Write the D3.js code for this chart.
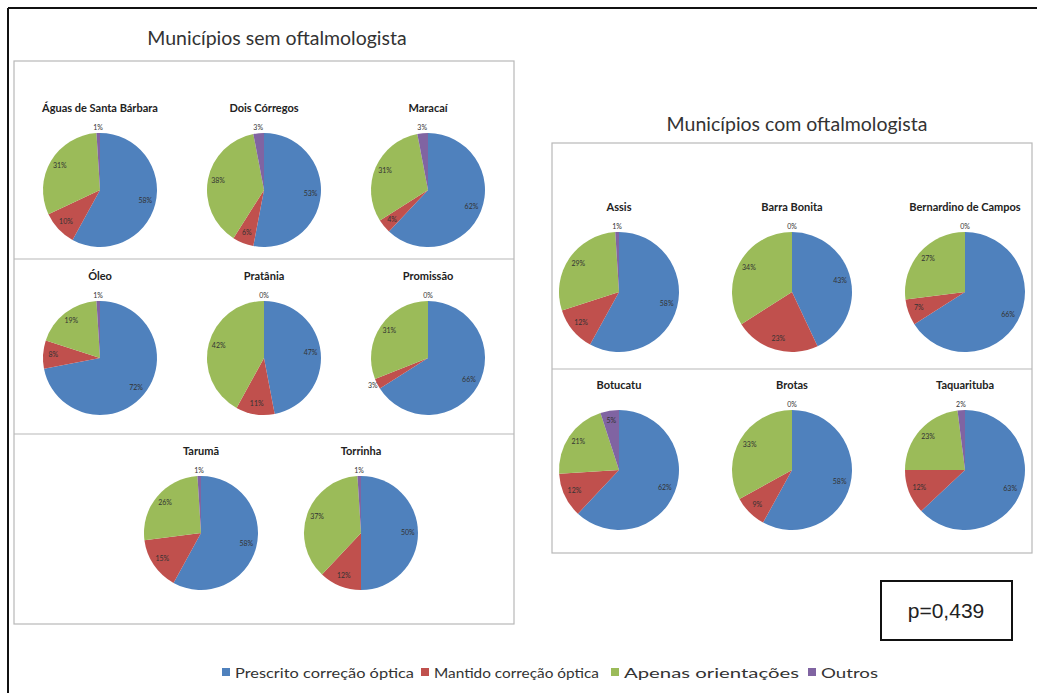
<!DOCTYPE html>
<html>
<head>
<meta charset="utf-8">
<script src="https://cdn.jsdelivr.net/npm/d3@7"></script>
<style>
  body { margin: 0; background: #fff; }
  svg { display: block; }
</style>
</head>
<body>
<div id="chart"></div>
<script>
// legend categories (clockwise order from 12 o'clock)
const categories = ["Prescrito correção óptica", "Mantido correção óptica", "Apenas orientações", "Outros"];
const colors = ["#4f81bd", "#c0504d", "#9bbb59", "#8064a2"];

// municípios sem oftalmologista
const semNomes = ["Águas de Santa Bárbara", "Dois Córregos", "Maracaí", "Óleo", "Pratânia", "Promissão", "Tarumã", "Torrinha"];
const semPrescrito = [58, 53, 62, 72, 47, 66, 58, 50];
const semMantido   = [10,  6,  4,  8, 11,  3, 15, 12];
const semApenas    = [31, 38, 31, 19, 42, 31, 26, 37];
const semOutros    = [ 1,  3,  3,  1,  0,  0,  1,  1];

// municípios com oftalmologista
const comNomes = ["Assis", "Barra Bonita", "Bernardino de Campos", "Botucatu", "Brotas", "Taquarituba"];
const comPrescrito = [58, 43, 66, 62, 58, 63];
const comMantido   = [12, 23,  7, 12,  9, 12];
const comApenas    = [29, 34, 27, 21, 33, 23];
const comOutros    = [ 1,  0,  0,  5,  0,  2];

const pValue = "p=0,439";

const W = 1037, H = 693;
const svg = d3.select("#chart").append("svg")
  .attr("width", W)
  .attr("height", H);

svg.append("rect").attr("width", W).attr("height", H).attr("fill", "#fff");

// outer frame (only top and left visible)
svg.append("line").attr("x1", 8).attr("x2", W).attr("y1", 8).attr("y2", 8)
  .attr("stroke", "#111").attr("stroke-width", 2);
svg.append("line").attr("x1", 8).attr("x2", 8).attr("y1", 8).attr("y2", H)
  .attr("stroke", "#111").attr("stroke-width", 2);

const pie = d3.pie().sort(null).value(d => d.v);
const color = d3.scaleOrdinal().domain(categories).range(colors);

function drawPie(g, nome, vals, r, titleDy) {
  const data = vals.map((v, i) => ({ k: categories[i], v: v }));
  const arcs = pie(data);
  const arc = d3.arc().innerRadius(0).outerRadius(r);
  const inner = d3.arc().innerRadius(r * 0.82).outerRadius(r * 0.82);
  const outer = d3.arc().innerRadius(r + 5).outerRadius(r + 5);

  g.append("text")
    .attr("y", titleDy)
    .attr("text-anchor", "middle")
    .attr("font-family", "Lato, 'Open Sans', sans-serif")
    .attr("font-weight", "bold")
    .attr("font-size", 11)
    .attr("fill", "#222")
    .text(nome);

  g.selectAll("path")
    .data(arcs)
    .enter()
    .append("path")
    .attr("d", arc)
    .attr("fill", d => color(d.data.k));

  g.selectAll("text.lbl")
    .data(arcs)
    .enter()
    .append("text")
    .attr("class", "lbl")
    .attr("transform", d => "translate(" + (d.data.v <= 3 ? outer : inner).centroid(d) + ")")
    .attr("text-anchor", "middle")
    .attr("dominant-baseline", "middle")
    .attr("font-family", "Lato, sans-serif")
    .attr("font-size", 7)
    .attr("fill", "#333")
    .text(d => d.data.v + "%");
}

const titleFont = "Lato, 'Open Sans', sans-serif";

// ---------- left block ----------
svg.append("text")
  .attr("x", 277).attr("y", 45)
  .attr("text-anchor", "middle")
  .attr("font-family", titleFont)
  .attr("font-size", 19.5)
  .attr("fill", "#333")
  .text("Municípios sem oftalmologista");

svg.append("rect")
  .attr("x", 14).attr("y", 61).attr("width", 500).attr("height", 563)
  .attr("fill", "none").attr("stroke", "#b8b8b8").attr("stroke-width", 1.2);
[259, 434].forEach(y => {
  svg.append("line").attr("x1", 14).attr("x2", 514).attr("y1", y).attr("y2", y)
    .attr("stroke", "#b8b8b8").attr("stroke-width", 1.2);
});

const semX = d3.scalePoint().domain([0, 1, 2]).range([100, 428]);
const semY = d3.scalePoint().domain([0, 1]).range([190, 358]);
const semX3 = d3.scalePoint().domain([0, 1]).range([201, 361]);

semNomes.forEach((nome, i) => {
  const vals = [semPrescrito[i], semMantido[i], semApenas[i], semOutros[i]];
  let cx, cy;
  if (i < 6) { cx = semX(i % 3); cy = semY(Math.floor(i / 3)); }
  else { cx = semX3(i - 6); cy = 533; }
  const g = svg.append("g").attr("transform", "translate(" + cx + "," + cy + ")");
  drawPie(g, nome, vals, 57, -78);
});

// ---------- right block ----------
svg.append("text")
  .attr("x", 797).attr("y", 131)
  .attr("text-anchor", "middle")
  .attr("font-family", titleFont)
  .attr("font-size", 19.5)
  .attr("fill", "#333")
  .text("Municípios com oftalmologista");

svg.append("rect")
  .attr("x", 552).attr("y", 143).attr("width", 480).attr("height", 410)
  .attr("fill", "none").attr("stroke", "#b8b8b8").attr("stroke-width", 1.2);
svg.append("line").attr("x1", 552).attr("x2", 1032).attr("y1", 369).attr("y2", 369)
  .attr("stroke", "#b8b8b8").attr("stroke-width", 1.2);

const comX = d3.scalePoint().domain([0, 1, 2]).range([619, 965]);
const comY = d3.scalePoint().domain([0, 1]).range([292, 470]);

comNomes.forEach((nome, i) => {
  const vals = [comPrescrito[i], comMantido[i], comApenas[i], comOutros[i]];
  const g = svg.append("g")
    .attr("transform", "translate(" + comX(i % 3) + "," + comY(Math.floor(i / 3)) + ")");
  drawPie(g, nome, vals, 60, -81);
});

// ---------- p value box ----------
svg.append("rect")
  .attr("x", 881).attr("y", 581).attr("width", 131).attr("height", 59)
  .attr("fill", "#fff").attr("stroke", "#111").attr("stroke-width", 2);
svg.append("text")
  .attr("x", 946).attr("y", 618)
  .attr("text-anchor", "middle")
  .attr("font-family", "'Liberation Sans', Arial, sans-serif")
  .attr("font-size", 21)
  .attr("fill", "#222")
  .text(pValue);

// ---------- legend ----------
const legendX = [222, 421, 611, 808];
const legendW = [179, 165, 175, 57];
const legend = svg.append("g").selectAll("g")
  .data(categories)
  .enter()
  .append("g")
  .attr("transform", (d, i) => "translate(" + legendX[i] + ",672)");
legend.append("rect")
  .attr("x", 0).attr("y", -4).attr("width", 8).attr("height", 8)
  .attr("fill", d => color(d));
legend.append("text")
  .attr("x", 13).attr("y", 0)
  .attr("dominant-baseline", "central")
  .attr("font-family", titleFont)
  .attr("font-size", 14)
  .attr("fill", "#333")
  .attr("textLength", (d, i) => legendW[i])
  .attr("lengthAdjust", "spacingAndGlyphs")
  .text(d => d);
</script>
</body>
</html>
